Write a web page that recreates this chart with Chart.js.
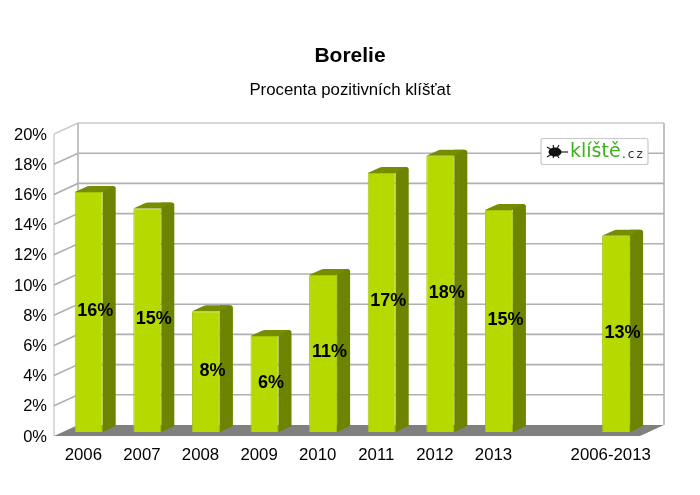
<!DOCTYPE html>
<html><head><meta charset="utf-8">
<style>html,body{margin:0;padding:0;background:#fff}canvas{display:block}</style>
<script src="https://cdn.jsdelivr.net/npm/chart.js@4"></script></head>
<body><canvas id="c" width="700" height="495"></canvas>
<script>
const categories = ['2006','2007','2008','2009','2010','2011','2012','2013','','2006-2013'];
const values = [15.9,14.8,8.0,6.35,10.4,17.15,18.3,14.7,null,13.0];
const valueLabels = ['16%','15%','8%','6%','11%','17%','18%','15%','','13%'];
const tickValues = [0,2,4,6,8,10,12,14,16,18,20];
const FONT = '"Liberation Sans", Arial, sans-serif';
const WALL = {dx:24, dy:-11}, BAR = {dx:5.4, dy:-4}, DEPTH = {dx:13, dy:-6};

const scene = {
  id:'scene',
  beforeDatasetsDraw(chart){
    const {ctx, scales:{x,y}} = chart;
    const l=x.left, r=x.right, b=y.getPixelForValue(0), t=y.getPixelForValue(20);
    ctx.save();
    ctx.strokeStyle='#c4c4c4'; ctx.lineWidth=1.2;
    ctx.beginPath(); ctx.moveTo(l,t); ctx.lineTo(l,b); ctx.stroke();
    ctx.lineWidth=1.6;
    tickValues.forEach(v=>{
      if(v===0) return;
      const p=y.getPixelForValue(v);
      ctx.strokeStyle = v===20 ? '#cccccc' : '#b0b0b0';
      ctx.beginPath(); ctx.moveTo(l,p); ctx.lineTo(l+WALL.dx,p+WALL.dy); ctx.lineTo(r+WALL.dx,p+WALL.dy); ctx.stroke();
    });
    ctx.strokeStyle='#b4b4b4';
    ctx.beginPath(); ctx.moveTo(l+WALL.dx,t+WALL.dy); ctx.lineTo(l+WALL.dx,b+WALL.dy); ctx.stroke();
    ctx.beginPath(); ctx.moveTo(r+WALL.dx,t+WALL.dy); ctx.lineTo(r+WALL.dx,b+WALL.dy); ctx.stroke();
    ctx.fillStyle='#808080';
    ctx.beginPath(); ctx.moveTo(l,b); ctx.lineTo(l+WALL.dx,b+WALL.dy); ctx.lineTo(r+WALL.dx,b+WALL.dy); ctx.lineTo(r,b); ctx.closePath(); ctx.fill();
    drawLogo(ctx);
    ctx.restore();
    // bars stand slightly behind the front edge of the floor
    ctx.save();
    ctx.translate(BAR.dx,BAR.dy);
    chart.getDatasetMeta(0).data.forEach((el,i)=>{
      if(values[i]==null) return;
      const w=el.width/2, L=el.x-w, R=el.x+w, T=el.y, B=el.base;
      const bx=R+DEPTH.dx, by=T+DEPTH.dy;
      ctx.fillStyle='#6c8400';
      ctx.beginPath(); ctx.moveTo(R,B); ctx.lineTo(bx,B+DEPTH.dy); ctx.lineTo(bx,by+2); ctx.arcTo(bx,by,bx-3,by,2.5); ctx.lineTo(R,by); ctx.lineTo(R,T); ctx.closePath(); ctx.fill();
      ctx.fillStyle='#748e00';
      ctx.beginPath(); ctx.moveTo(L,T); ctx.lineTo(L+DEPTH.dx-2,by+1); ctx.quadraticCurveTo(L+DEPTH.dx,by,L+DEPTH.dx+2,by); ctx.lineTo(bx-3,by); ctx.lineTo(R,T); ctx.closePath(); ctx.fill();
    });
  },
  afterDatasetsDraw(chart){
    const {ctx}=chart;
    ctx.restore();
    ctx.save();
    ctx.font='bold 18px '+FONT; ctx.fillStyle='#000'; ctx.textAlign='center'; ctx.textBaseline='middle';
    chart.getDatasetMeta(0).data.forEach((el,i)=>{
      if(values[i]==null) return;
      ctx.fillText(valueLabels[i], el.x+BAR.dx+DEPTH.dx/2, (el.y+el.base)/2+BAR.dy-1);
    });
    ctx.restore();
  }
};
function drawLogo(ctx){
  ctx.save();
  ctx.fillStyle='#fff'; ctx.strokeStyle='#c8c8c8'; ctx.lineWidth=1.2;
  ctx.beginPath(); ctx.roundRect(541,138.5,107,26,2); ctx.fill(); ctx.stroke();
  ctx.fillStyle='#111'; ctx.strokeStyle='#111';
  const cx=555,cy=152;
  ctx.beginPath(); ctx.ellipse(cx,cy,6.5,4.5,0,0,Math.PI*2); ctx.fill();
  ctx.lineWidth=1.1;
  [[-8,-5],[-2,-7],[4,-7],[-8,5],[-2,6],[4,6]].forEach(o=>{ctx.beginPath();ctx.moveTo(cx,cy);ctx.lineTo(cx+o[0],cy+o[1]);ctx.stroke();});
  ctx.beginPath();ctx.moveTo(cx,cy);ctx.lineTo(cx+13,cy);ctx.stroke();
  ctx.textBaseline='alphabetic'; ctx.textAlign='left';
  ctx.font='19px "DejaVu Sans", sans-serif'; ctx.fillStyle='#3fb01e';
  ctx.fillText('klíště',570,157);
  ctx.font='12px "DejaVu Sans", sans-serif'; ctx.fillStyle='#333';
  ctx.letterSpacing='2px';
  ctx.fillText('.cz',622,158);
  ctx.restore();
}
new Chart(document.getElementById('c'),{
  type:'bar',
  plugins:[scene],
  data:{labels:categories,datasets:[{data:values,backgroundColor:'#b6da00',borderColor:'#a3c400',borderWidth:1,borderRadius:1,barPercentage:0.478,categoryPercentage:1}]},
  options:{
    responsive:false,animation:false,
    plugins:{
      legend:{display:false},tooltip:{enabled:false},
      title:{display:true,text:'Borelie',color:'#000',font:{family:FONT,size:21,weight:'bold'},padding:{top:44,bottom:11}},
      subtitle:{display:true,text:'Procenta pozitivních klíšťat',color:'#000',font:{family:FONT,size:16.8,weight:'normal'},padding:{top:0,bottom:33.64}}
    },
    scales:{
      x:{grid:{display:false,drawTicks:false},border:{display:false},
         ticks:{color:'#000',font:{family:FONT,size:16.8},padding:9,autoSkip:false,maxRotation:0},
         afterFit(s){s.height=59;}},
      y:{min:0,max:20,grid:{display:false,drawTicks:false},border:{display:false},
         afterBuildTicks(s){s.ticks=tickValues.map(v=>({value:v}));},
         ticks:{color:'#000',font:{family:FONT,size:16.5},padding:7,callback:v=>v+'%',labelOffset:1},
         afterFit(s){s.width=54;}},
      rightMargin:{position:'right',grid:{display:false,drawTicks:false},border:{display:false},
         ticks:{display:false},afterFit(s){s.width=60;}}
    }
  }
});
</script></body></html>
